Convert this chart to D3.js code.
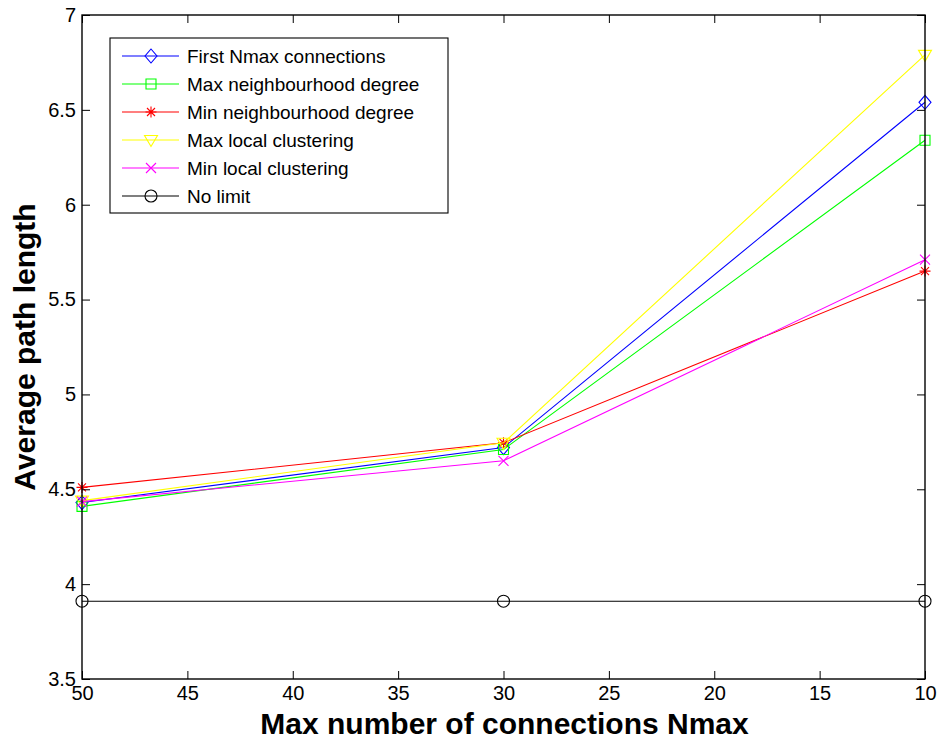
<!DOCTYPE html>
<html>
<head>
<meta charset="utf-8">
<script src="https://cdn.jsdelivr.net/npm/d3@7"></script>
<style>
  html, body { margin: 0; padding: 0; background: #fff; }
  svg { display: block; }
  text { font-family: "Liberation Sans", Arial, Helvetica, sans-serif; fill: #000; }
</style>
</head>
<body>
<svg id="chart" width="939" height="742"></svg>
<script>
// Maximum number of connections per node (x axis, shown in descending order)
const nmax = [50, 30, 10];

// Average path length for each connection-limiting strategy
const firstNmax      = [4.43, 4.72, 6.54];
const maxNeighDegree = [4.41, 4.71, 6.34];
const minNeighDegree = [4.51, 4.745, 5.65];
const maxLocalClust  = [4.44, 4.745, 6.79];
const minLocalClust  = [4.435, 4.65, 5.71];
const noLimit        = [3.91, 3.91, 3.91];

const seriesNames = [
  "First Nmax connections",
  "Max neighbourhood degree",
  "Min neighbourhood degree",
  "Max local clustering",
  "Min local clustering",
  "No limit"
];

const xTicks = [50, 45, 40, 35, 30, 25, 20, 15, 10];
const yTicks = [3.5, 4, 4.5, 5, 5.5, 6, 6.5, 7];

const xTitle = "Max number of connections Nmax";
const yTitle = "Average path length";

// ---- styling ----
const colors  = ["#0000ff", "#00ff00", "#ff0000", "#ffff00", "#ff00ff", "#000000"];
const markers = ["diamond", "square", "asterisk", "triangleDown", "cross", "circle"];
const values  = [firstNmax, maxNeighDegree, minNeighDegree, maxLocalClust, minLocalClust, noLimit];

const plot = { left: 82, right: 925, top: 15, bottom: 679 };

const svg = d3.select("#chart");

const x = d3.scaleLinear().domain([50, 10]).range([plot.left, plot.right]);
const y = d3.scaleLinear().domain([3.5, 7]).range([plot.bottom, plot.top]);

const fmt = d => (d % 1 === 0 ? String(d) : d.toFixed(1));

// marker path generators, centred on the origin
function markerPath(kind) {
  switch (kind) {
    case "diamond":      return "M0,-7L6,0L0,7L-6,0Z";
    case "square":       return "M-5,-5H5V5H-5Z";
    case "triangleDown": return "M-6.5,-4.5H6.5L0,6.5Z";
    case "asterisk":     return "M-5.5,0H5.5M0,-5.5V5.5M-4,-4L4,4M-4,4L4,-4";
    case "cross":        return "M-5,-5L5,5M-5,5L5,-5";
    case "circle":       return "M6,0A6,6 0 1,1 -6,0A6,6 0 1,1 6,0Z";
  }
}

// ---- series lines and markers ----
const lineGen = d3.line().x((d, i) => x(nmax[i])).y(d => y(d));
const gSeries = svg.append("g");
values.forEach((vals, s) => {
  gSeries.append("path")
    .attr("d", lineGen(vals))
    .attr("fill", "none")
    .attr("stroke", colors[s])
    .attr("stroke-width", 1.1);
  gSeries.selectAll(null)
    .data(vals)
    .enter().append("path")
    .attr("transform", (d, i) => `translate(${x(nmax[i])},${y(d)})`)
    .attr("d", markerPath(markers[s]))
    .attr("fill", "none")
    .attr("stroke", colors[s])
    .attr("stroke-width", 1.1);
});

// ---- axes frame with inward ticks on all four sides ----
const tickLen = 8;
const gAxes = svg.append("g");

gAxes.append("rect")
  .attr("x", plot.left).attr("y", plot.top)
  .attr("width", plot.right - plot.left).attr("height", plot.bottom - plot.top)
  .attr("fill", "none").attr("stroke", "#000").attr("stroke-width", 1.4);

const axBottom = d3.axisBottom(x).tickValues(xTicks).tickFormat(fmt).tickSize(-tickLen).tickPadding(7);
const axTop    = d3.axisTop(x).tickValues(xTicks).tickFormat("").tickSize(-tickLen);
const axLeft   = d3.axisLeft(y).tickValues(yTicks).tickFormat(fmt).tickSize(-tickLen).tickPadding(6);
const axRight  = d3.axisRight(y).tickValues(yTicks).tickFormat("").tickSize(-tickLen);

function styleAxis(g) {
  g.select(".domain").remove();
  g.selectAll(".tick line").attr("stroke", "#000").attr("stroke-width", 1);
  g.selectAll(".tick text")
    .attr("font-size", 20)
    .attr("font-family", "'Liberation Sans', Arial, sans-serif")
    .attr("fill", "#000");
}

gAxes.append("g").attr("transform", `translate(0,${plot.bottom})`).call(axBottom).call(styleAxis);
gAxes.append("g").attr("transform", `translate(0,${plot.top})`).call(axTop).call(styleAxis);
gAxes.append("g").attr("transform", `translate(${plot.left},0)`).call(axLeft).call(styleAxis);
gAxes.append("g").attr("transform", `translate(${plot.right},0)`).call(axRight).call(styleAxis);

// ---- axis titles ----
svg.append("text")
  .attr("x", (plot.left + plot.right) / 2 + 1)
  .attr("y", 734)
  .attr("text-anchor", "middle")
  .attr("font-size", 30)
  .attr("font-weight", "bold")
  .text(xTitle);

svg.append("text")
  .attr("transform", `translate(35,${(plot.top + plot.bottom) / 2}) rotate(-90)`)
  .attr("text-anchor", "middle")
  .attr("font-size", 30)
  .attr("font-weight", "bold")
  .text(yTitle);

// ---- legend ----
const legend = { x: 110, y: 38, w: 338, h: 175, rowTop: 56, rowStep: 28 };
const gLeg = svg.append("g");
gLeg.append("rect")
  .attr("x", legend.x).attr("y", legend.y)
  .attr("width", legend.w).attr("height", legend.h)
  .attr("fill", "#fff").attr("stroke", "#000").attr("stroke-width", 1.1);

seriesNames.forEach((name, s) => {
  const cy = legend.rowTop + s * legend.rowStep;
  gLeg.append("line")
    .attr("x1", 122).attr("x2", 179).attr("y1", cy).attr("y2", cy)
    .attr("stroke", colors[s]).attr("stroke-width", 1.1);
  gLeg.append("path")
    .attr("transform", `translate(151,${cy})`)
    .attr("d", markerPath(markers[s]))
    .attr("fill", "none").attr("stroke", colors[s]).attr("stroke-width", 1.1);
  gLeg.append("text")
    .attr("x", 187).attr("y", cy)
    .attr("dy", "0.35em")
    .attr("font-size", 19)
    .text(name);
});
</script>
</body>
</html>
